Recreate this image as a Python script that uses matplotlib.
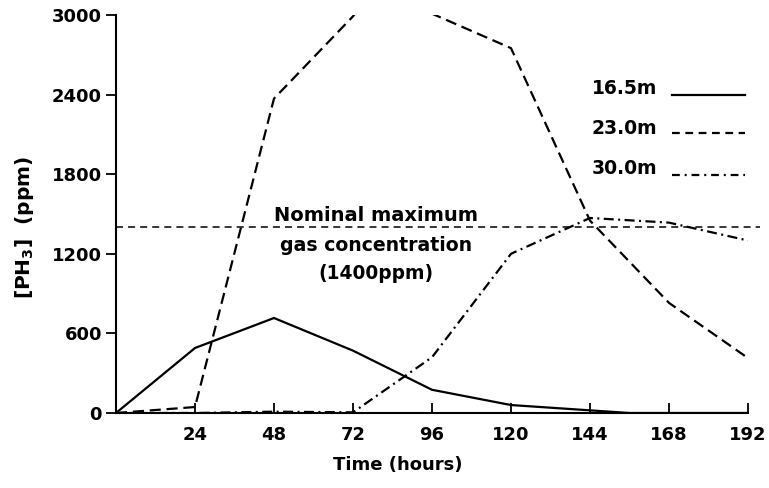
import matplotlib
matplotlib.use("Agg")
import matplotlib.pyplot as plt

hours_165 = [0, 24, 48, 72, 96, 120, 144, 156, 192]
ppm_165 = [0, 490, 716, 470, 175, 60, 20, 0, 0]

hours_230 = [0, 24, 48, 72, 84, 96, 120, 144, 168, 192]
ppm_230 = [0, 45, 2370, 2990, 3400, 3010, 2750, 1450, 830, 414]

hours_300 = [0, 24, 48, 72, 96, 120, 144, 168, 192]
ppm_300 = [0, 0, 10, 5, 420, 1200, 1470, 1435, 1300]

nominal_max = 1400
xticks = [24, 48, 72, 96, 120, 144, 168, 192]
yticks = [0, 600, 1200, 1800, 2400, 3000]
legend_labels = ["16.5m", "23.0m", "30.0m"]

plt.rcParams['font.family'] = ['DejaVu Sans']
plt.rcParams['font.weight'] = 'bold'
plt.rcParams['mathtext.fontset'] = 'dejavusans'

fig = plt.figure(figsize=(7.69, 4.88), dpi=100)
ax = fig.add_axes([116/769, 1-413/488, 632/769, 398/488])

lw = 1.6
ax.plot(hours_165, ppm_165, color='black', lw=lw, solid_joinstyle='miter')
ax.plot(hours_230, ppm_230, color='black', lw=lw, linestyle=(0, (5, 2.6)))
ax.plot(hours_300, ppm_300, color='black', lw=lw, linestyle=(0, (4.5, 2, 0.9, 2)))

ax.plot([0, 195.5], [nominal_max, nominal_max], color='black', lw=1.1,
        linestyle=(0, (4.6, 3.3)), clip_on=False)

ax.set_xlim(0, 192)
ax.set_ylim(0, 3000)
ax.set_xticks(xticks)
ax.set_yticks(yticks)
for s in ['top', 'right']:
    ax.spines[s].set_visible(False)
for s in ['left', 'bottom']:
    ax.spines[s].set_linewidth(1.5)
ax.tick_params(axis='x', direction='in', length=7, width=1.3, labelsize=13, pad=9)
ax.tick_params(axis='y', direction='out', length=7, width=1.3, labelsize=13, pad=3)
for lab in ax.get_xticklabels() + ax.get_yticklabels():
    lab.set_fontweight('bold')

ax.text(79, 1490, "Nominal maximum", ha='center', va='center', fontsize=14, fontweight='bold')
ax.text(79, 1265, "gas concentration", ha='center', va='center', fontsize=13.6, fontweight='bold')
ax.text(79, 1050, "(1400ppm)", ha='center', va='center', fontsize=13.4, fontweight='bold')

# legend drawn manually
leg_text_y = [2449, 2148, 1846]
leg_line_y = [2396, 2110, 1794]
styles = ['-', (0, (3.5, 2.5)), (0, (3.5, 2.2, 0.9, 2.2))]
for lab, ty, ly, st in zip(legend_labels, leg_text_y, leg_line_y, styles):
    ax.text(164.5, ty, lab, ha='right', va='center', fontsize=13.5, fontweight='bold')
    ax.plot([169, 191], [ly, ly], color='black', lw=lw, linestyle=st)

fig.text(398/769, 1-465/488, "Time (hours)", ha='center', va='center', fontsize=13, fontweight='bold')
fig.text(24/769, 1-227/488, r"$\left[\mathbf{PH_3}\right]$  (ppm)", rotation=90,
         ha='center', va='center', fontsize=14.5, fontweight='bold')

fig.savefig("out.png", dpi=100)
